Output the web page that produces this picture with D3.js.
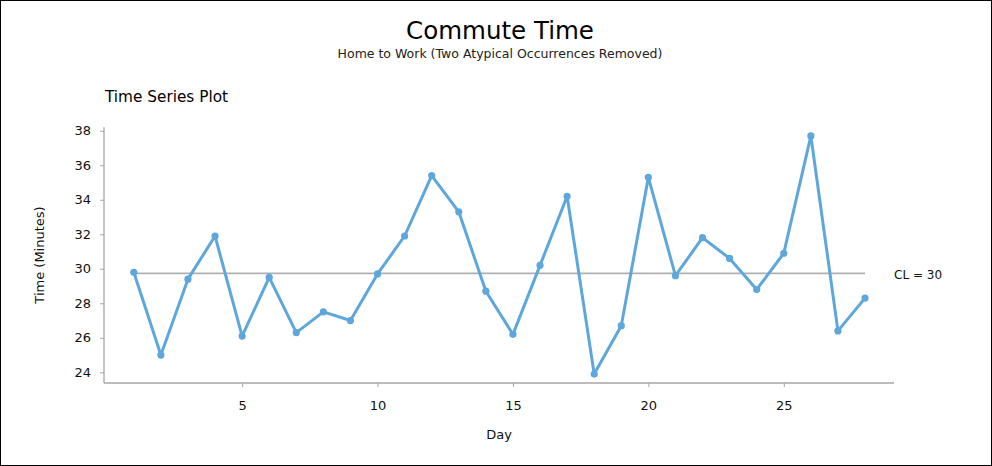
<!DOCTYPE html>
<html><head><meta charset="utf-8">
<script src="https://cdn.jsdelivr.net/npm/d3@7"></script>
<style>
html,body{margin:0;padding:0;background:#fff;}
svg{display:block;font-family:"DejaVu Sans",sans-serif;}
</style></head><body>
<svg id="chart" width="992" height="466"></svg>
<script>
const days = [1,2,3,4,5,6,7,8,9,10,11,12,13,14,15,16,17,18,19,20,21,22,23,24,25,26,27,28];
const times = [29.8,25.0,29.4,31.9,26.1,29.5,26.3,27.5,27.0,29.7,31.9,35.4,33.3,28.7,26.2,30.2,34.2,23.9,26.7,35.3,29.6,31.8,30.6,28.8,30.9,37.7,26.4,28.3];
const clValue = 29.73;
const clLabel = "CL = 30";
const xTicks = [5,10,15,20,25];
const yTicks = [24,26,28,30,32,34,36,38];

const svg = d3.select("#chart");
svg.append("rect").attr("x",0.5).attr("y",0.5).attr("width",991).attr("height",465)
  .attr("fill","#fff").attr("stroke","#000").attr("stroke-width",1);

const x = d3.scaleLinear().domain([-0.1, 29.07]).range([104, 894]);
const y = d3.scaleLinear().domain([23.38, 38.2]).range([383, 127.3]);

svg.append("text").attr("x",500).attr("y",39).attr("text-anchor","middle")
  .attr("font-size",24.5).attr("fill","#000").text("Commute Time");
svg.append("text").attr("x",500).attr("y",58).attr("text-anchor","middle")
  .attr("font-size",12.5).attr("fill","#222").text("Home to Work (Two Atypical Occurrences Removed)");
svg.append("text").attr("x",105).attr("y",102)
  .attr("font-size",15.3).attr("fill","#000").text("Time Series Plot");

const axCol = "#a6a6a6";
const yAxis = svg.append("g").attr("transform","translate(104,0)")
  .call(d3.axisLeft(y).tickValues(yTicks).tickSize(4).tickPadding(9).tickFormat(d3.format("d")));
const xAxis = svg.append("g").attr("transform","translate(0,383)")
  .call(d3.axisBottom(x).tickValues(xTicks).tickSize(4).tickPadding(14).tickFormat(d3.format("d")));
[xAxis,yAxis].forEach(g=>{
  g.select(".domain").attr("stroke",axCol).attr("stroke-width",1.3);
  g.selectAll(".tick line").attr("stroke",axCol).attr("stroke-width",1);
  g.selectAll(".tick text").attr("font-size",13).attr("fill","#111").attr("font-family","DejaVu Sans");
});
yAxis.select(".domain").attr("d","M0,383V127.3");
xAxis.select(".domain").attr("d","M104,0H894");

svg.append("text").attr("x",499).attr("y",439).attr("text-anchor","middle")
  .attr("font-size",13).attr("fill","#111").text("Day");
svg.append("text").attr("transform","translate(44,255) rotate(-90)").attr("text-anchor","middle")
  .attr("font-size",13).attr("fill","#111").text("Time (Minutes)");

svg.append("line").attr("x1",x(days[0])).attr("x2",x(days[days.length-1]))
  .attr("y1",y(clValue)).attr("y2",y(clValue)).attr("stroke","#b0b0b0").attr("stroke-width",1.8);
svg.append("text").attr("x",894).attr("y",279).attr("font-size",12).attr("fill","#111").text(clLabel);

const data = days.map((d,i)=>({d, v:times[i]}));
const col = "#5ea7dc";
svg.append("path").datum(data).attr("fill","none").attr("stroke",col).attr("stroke-width",3)
  .attr("stroke-linejoin","round")
  .attr("d", d3.line().x(p=>x(p.d)).y(p=>y(p.v)));
svg.selectAll("circle.pt").data(data).enter().append("circle").attr("class","pt")
  .attr("cx",p=>x(p.d)).attr("cy",p=>y(p.v)).attr("r",3.6).attr("fill",col);
</script>
</body></html>
